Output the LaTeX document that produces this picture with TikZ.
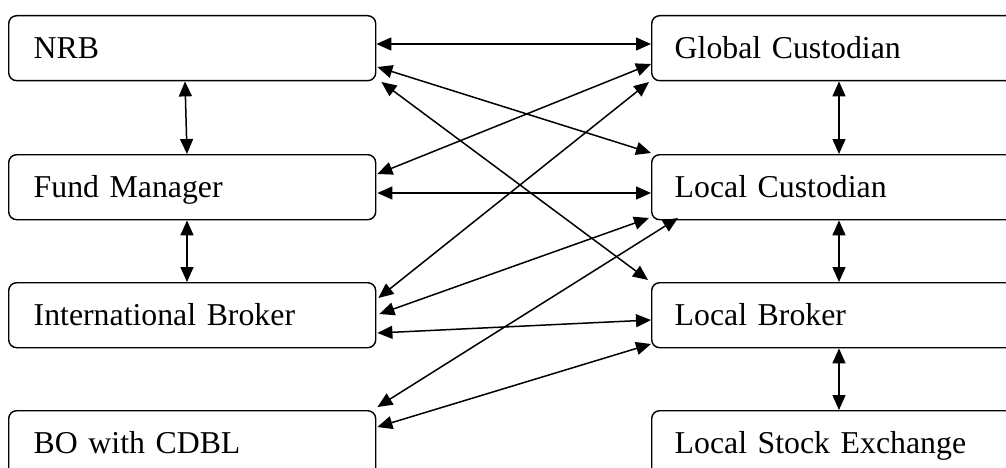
\documentclass[tikz,border=0pt]{standalone}
\usepackage{fontspec}
\setmainfont{Liberation Serif}
\usetikzlibrary{arrows.meta,calc}
\tikzset{
  box/.style={draw, line width=1.4pt, rounded corners=8pt, anchor=north west,
    minimum height=65pt, align=left, inner ysep=0pt,
    text height=24pt, text depth=3pt,
    font=\fontsize{31.8}{36}\selectfont},
  lbox/.style={box, minimum width=367pt, text width=317pt, inner xsep=25pt},
  rbox/.style={box, minimum width=380pt, text width=334pt, inner xsep=23pt},
  link/.style={line width=1.5pt, {Triangle[length=15pt,width=13pt]}-{Triangle[length=15pt,width=13pt]}}
}
\begin{document}
\begin{tikzpicture}[x=1pt,y=-1pt]
\useasboundingbox (0,0) rectangle (1006,468);
\clip (0,0) rectangle (1006,468);
% left column
\node[lbox] (nrb) at (8,15) {NRB};
\node[lbox] (fm)  at (8,154) {Fund Manager};
\node[lbox] (ib)  at (8,282) {International Broker};
\node[lbox] (bo)  at (8,410) {BO with CDBL};
% right column
\node[rbox] (gc)  at (651,15) {Global Custodian};
\node[rbox] (lc)  at (651,154) {Local Custodian};
\node[rbox] (lb)  at (651,282) {Local Broker};
\node[rbox] (lse) at (651,410) {Local Stock Exchange};
% vertical links
\draw[link] ($(nrb.south west)+(177,0)$) -- ($(fm.north west)+(179,0)$);
\draw[link] ($(fm.south west)+(179,0)$) -- ($(ib.north west)+(179,0)$);
\draw[link] ($(gc.south west)+(188,0)$) -- ($(lc.north west)+(188,0)$);
\draw[link] ($(lc.south west)+(188,0)$) -- ($(lb.north west)+(188,0)$);
\draw[link] ($(lb.south west)+(188,0)$) -- ($(lse.north west)+(188,0)$);
% cross links
\draw[link] ($(nrb.north east)+(0,29)$) -- ($(gc.north west)+(0,29)$);
\draw[link] ($(nrb.north east)+(1,52)$) -- ($(lc.north west)+(0,-1)$);
\draw[link] ($(nrb.north east)+(5,67)$) -- ($(lb.north west)+(-3,-2)$);
\draw[link] ($(gc.north west)+(0,49)$) -- ($(fm.north east)+(1,20)$);
\draw[link] ($(gc.north west)+(-2,67)$) -- ($(ib.north east)+(2,16)$);
\draw[link] ($(fm.north east)+(1,39)$) -- ($(lc.north west)+(0,39)$);
\draw[link] ($(lc.north west)+(-2,64)$) -- ($(ib.north east)+(3,32)$);
\draw[link] ($(lc.north west)+(27,64)$) -- ($(bo.north east)+(1,-3)$);
\draw[link] ($(ib.north east)+(1,51)$) -- ($(lb.north west)+(0,38)$);
\draw[link] ($(bo.north east)+(1,17)$) -- ($(lb.north west)+(0,62)$);
\end{tikzpicture}
\end{document}
